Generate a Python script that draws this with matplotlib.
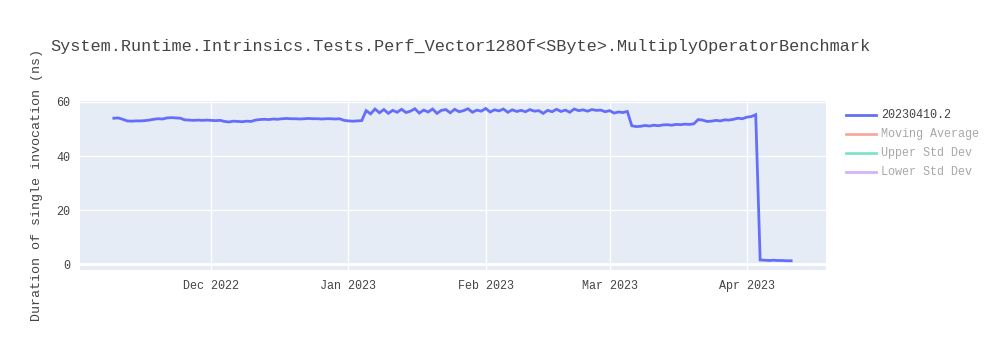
import pandas as pd
import matplotlib
matplotlib.use("Agg")
import matplotlib.pyplot as plt
import matplotlib.dates as mdates
from matplotlib.lines import Line2D

plt.rcParams["font.family"] = ["Liberation Mono", "DejaVu Sans Mono"]

TITLE = "System.Runtime.Intrinsics.Tests.Perf_Vector128Of<SByte>.MultiplyOperatorBenchmark"
YLABEL = "Duration of single invocation (ns)"
START = "2022-11-09"

# one measurement per day, Nov 9 2022 .. Apr 11 2023
durations = [
    54.0, 54.1,
    53.6, 53.0, 52.9, 53.0, 53.0, 53.1, 53.3,
    53.6, 53.8, 53.7,
    54.1, 54.2, 54.1, 54.0,
    53.4, 53.3, 53.2, 53.3, 53.2, 53.3, 53.2, 53.1, 53.2,
    52.8, 52.6, 52.9, 52.8, 52.7, 52.9, 52.8,
    53.3, 53.5, 53.6, 53.5, 53.7, 53.6,
    53.8, 53.9, 53.8, 53.8, 53.7, 53.8, 53.9, 53.8, 53.8, 53.7, 53.8, 53.8, 53.7, 53.8,
    53.2, 53.0, 52.9, 53.0, 53.1,
    # Jan 5 .. Mar 5
    56.8, 55.6, 57.4, 56.0, 57.2, 55.8, 56.9, 56.2, 57.3, 56.1,
    56.6, 57.5, 55.9, 57.0, 56.3, 57.4, 55.8, 56.9, 57.2, 56.0,
    57.3, 56.4, 56.8, 57.5, 56.2, 57.0, 56.6, 57.6, 56.3, 57.1,
    56.7, 57.4, 56.2, 57.1, 56.5, 56.9, 56.4, 57.2, 56.6, 56.8,
    55.8, 56.9, 56.4, 57.3, 56.5, 57.0, 56.2, 57.4, 56.8, 57.1,
    56.6, 57.2, 56.9, 57.0, 56.4, 56.8, 55.9, 56.3, 56.1, 56.5,
    # Mar 6 .. Mar 20
    51.2, 50.9, 51.0, 51.3, 51.1, 51.4, 51.2, 51.5, 51.6, 51.4, 51.7, 51.6, 51.8, 51.7, 51.9,
    # Mar 21 .. Mar 31
    53.5, 53.3, 52.8, 52.9, 53.2, 53.0, 53.4, 53.3, 53.6, 54.0, 53.8,
    # Apr 1 .. Apr 3
    54.4, 54.6, 55.3,
    # Apr 4 .. Apr 11
    1.5, 1.4, 1.3, 1.4, 1.3, 1.3, 1.2, 1.2,
]
dates = pd.date_range(START, periods=len(durations), freq="D")

legend_names = ["20230410.2", "Moving Average", "Upper Std Dev", "Lower Std Dev"]
legend_colors = ["#636EFA", "#F5AA9D", "#7FE5CA", "#D5B1FC"]
legend_text_colors = ["#444444", "#A8A8A8", "#A8A8A8", "#A8A8A8"]

W, H = 1000, 350
fig = plt.figure(figsize=(10, 3.5), dpi=100)
ax = fig.add_axes([80 / W, 1 - 270 / H, 746 / W, 169 / H])
ax.set_facecolor("#E5ECF6")
for s in ax.spines.values():
    s.set_visible(False)

ax.plot(dates, durations, color="#636EFA", lw=2.0, solid_joinstyle="miter", zorder=3)

ax.set_xlim(pd.Timestamp("2022-11-01 08:40"), pd.Timestamp("2023-04-18 21:00"))
ax.set_ylim(-2.22, 60.37)
ax.set_yticks([0, 20, 40, 60])
ax.xaxis.set_major_locator(mdates.MonthLocator(bymonth=[12, 1, 2, 3, 4]))
ax.xaxis.set_major_formatter(mdates.DateFormatter("%b %Y"))
ax.grid(True, color="white", lw=1, zorder=0)
ax.axhline(0, color="white", lw=2, zorder=1)
ax.set_axisbelow(True)
ax.tick_params(length=0, labelsize=8.5, labelcolor="#444444", pad=7)

fig.text(50 / W, 1 - 46 / H, TITLE, fontsize=12.2, color="#444444", va="center", ha="left")
fig.text(37 / W, 1 - 185 / H, YLABEL, fontsize=9.6, color="#444444", rotation=90,
         va="center", ha="center")

for i, (name, c, tc) in enumerate(zip(legend_names, legend_colors, legend_text_colors)):
    y = 1 - (115 + 19 * i) / H
    fig.add_artist(Line2D([846 / W, 876 / W], [y, y], color=c, lw=2, transform=fig.transFigure))
    fig.text(881 / W, y, name, fontsize=8.5, color=tc, va="center", ha="left")

fig.savefig("out.png", dpi=100)
